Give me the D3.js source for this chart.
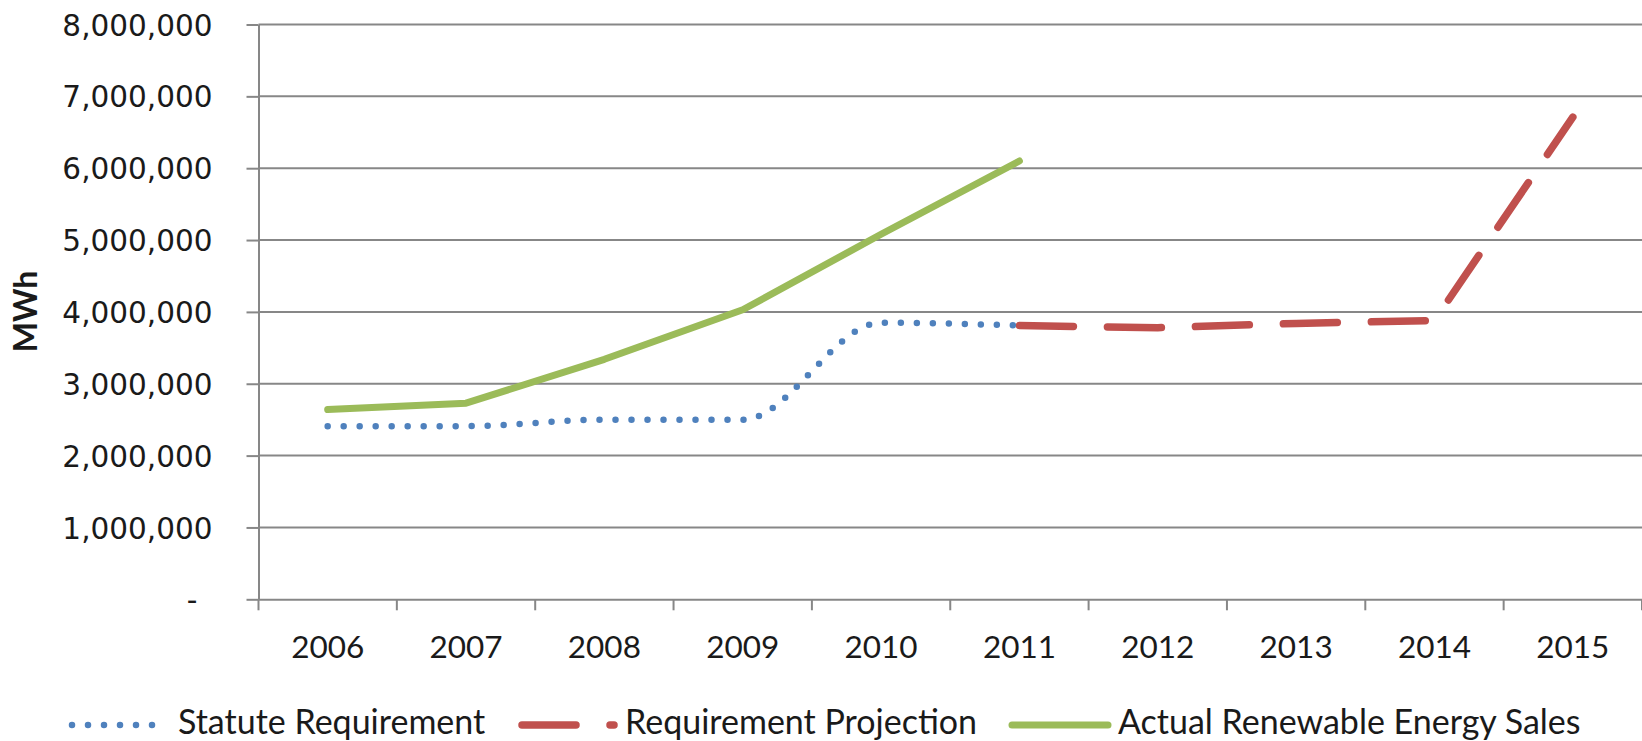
<!DOCTYPE html>
<html>
<head>
<meta charset="utf-8">
<script src="https://cdn.jsdelivr.net/npm/d3@7/dist/d3.min.js"></script>
<style>
  html, body { margin: 0; padding: 0; background: #fff; }
  svg { display: block; }
</style>
</head>
<body>
<svg id="chart" width="1642" height="741"></svg>
<script>
// ---- data ----
const years = ["2006", "2007", "2008", "2009", "2010", "2011", "2012", "2013", "2014", "2015"];
const statuteYears = ["2006", "2007", "2008", "2009", "2010", "2011"];
const statuteValues = [2410000, 2410000, 2500000, 2500000, 3850000, 3810000];
const projectionYears = ["2011", "2012", "2013", "2014", "2015"];
const projectionValues = [3810000, 3780000, 3840000, 3880000, 6710000];
const actualYears = ["2006", "2007", "2008", "2009", "2010", "2011"];
const actualValues = [2640000, 2730000, 3340000, 4030000, 5080000, 6100000];
const yTicks = [0, 1000000, 2000000, 3000000, 4000000, 5000000, 6000000, 7000000, 8000000];
const seriesNames = ["Statute Requirement", "Requirement Projection", "Actual Renewable Energy Sales"];
const yTitle = "MWh";

(function () {
// ---- layout ----
const svg = d3.select("#chart");
const pLeft = 258.5, pRight = 1642, pTop = 24.5, pBottom = 599.3;
const gridColor = "#878787";
const colors = { statute: "#4F81BD", projection: "#C0504D", actual: "#9BBB59" };

const x = d3.scaleBand().domain(years).range([pLeft, pRight]).paddingInner(0).paddingOuter(0);
const y = d3.scaleLinear().domain([0, 8000000]).range([pBottom, pTop]);
const cx = d => x(d) + x.bandwidth() / 2;

// gridlines
svg.append("g").selectAll("line").data(yTicks.filter(v => v > 0)).join("line")
  .attr("x1", pLeft).attr("x2", pRight)
  .attr("y1", d => y(d)).attr("y2", d => y(d))
  .attr("stroke", gridColor).attr("stroke-width", 2);

// y axis
const yAxis = d3.axisLeft(y).tickValues(yTicks).tickSizeInner(12).tickSizeOuter(0).tickPadding(34)
  .tickFormat(d => d === 0 ? "-" : d3.format(",")(d));
const gy = svg.append("g").attr("transform", `translate(${pLeft},0)`).call(yAxis);
gy.select(".domain").attr("stroke", gridColor).attr("stroke-width", 2);
gy.selectAll(".tick line").attr("stroke", gridColor).attr("stroke-width", 2);
gy.selectAll(".tick text")
  .attr("font-family", "'DejaVu Sans', Verdana, sans-serif")
  .attr("font-size", 29.5).attr("fill", "#1a1a1a")
  .attr("dy", "0.36em")
  .attr("dx", d => d === 0 ? -15 : 0);

// x axis
const xAxis = d3.axisBottom(x).tickSizeOuter(0).tickSize(0).tickPadding(0);
const gx = svg.append("g").attr("transform", `translate(0,${pBottom})`).call(xAxis);
gx.select(".domain").attr("stroke", gridColor).attr("stroke-width", 2);
gx.selectAll(".tick text")
  .attr("font-family", "Lato, 'Open Sans', sans-serif")
  .attr("font-size", 31.5).attr("fill", "#1a1a1a")
  .attr("y", 58.7).attr("dy", 0);
// category boundary ticks
svg.append("g").selectAll("line").data(years.concat(["end"])).join("line")
  .attr("x1", (d, i) => i < years.length ? x(d) : pRight)
  .attr("x2", (d, i) => i < years.length ? x(d) : pRight)
  .attr("y1", pBottom).attr("y2", pBottom + 11)
  .attr("stroke", gridColor).attr("stroke-width", 2);

// y title
svg.append("text")
  .attr("transform", `translate(37,311.5) rotate(-90)`)
  .attr("text-anchor", "middle")
  .attr("font-family", "Lato, 'Open Sans', sans-serif")
  .attr("font-weight", "bold").attr("font-size", 32).attr("fill", "#1a1a1a")
  .text(yTitle);

// lines
const smooth = d3.line().x(d => cx(d[0])).y(d => y(d[1])).curve(d3.curveMonotoneX);
const straight = d3.line().x(d => cx(d[0])).y(d => y(d[1])).curve(d3.curveLinear);

const actualData = actualYears.map((yr, i) => [yr, actualValues[i]]);
const statuteData = statuteYears.map((yr, i) => [yr, statuteValues[i]]);
const projectionData = projectionYears.map((yr, i) => [yr, projectionValues[i]]);

svg.append("path").datum(actualData).attr("d", straight)
  .attr("fill", "none").attr("stroke", colors.actual).attr("stroke-width", 7)
  .attr("stroke-linecap", "round").attr("stroke-linejoin", "round");

svg.append("path").datum(projectionData).attr("d", straight)
  .attr("fill", "none").attr("stroke", colors.projection).attr("stroke-width", 7.5)
  .attr("stroke-linecap", "round").attr("stroke-linejoin", "round").attr("stroke-dasharray", "54 34");

svg.append("path").datum(statuteData).attr("d", smooth)
  .attr("fill", "none").attr("stroke", colors.statute).attr("stroke-width", 6.5)
  .attr("stroke-linecap", "round").attr("stroke-dasharray", "0 16");

// legend
const legendY = 725;
const legend = [
  { name: seriesNames[0], x0: 72, x1: 156, tx: 178, color: colors.statute, w: 6.5, dash: "0 16" },
  { name: seriesNames[1], x0: 522, x1: 614, tx: 625, color: colors.projection, w: 7.5, dash: "54 34" },
  { name: seriesNames[2], x0: 1012, x1: 1108, tx: 1118, color: colors.actual, w: 7, dash: null }
];
const lg = svg.append("g").selectAll("g").data(legend).join("g");
lg.append("line")
  .attr("x1", d => d.x0).attr("x2", d => d.x1)
  .attr("y1", legendY).attr("y2", legendY)
  .attr("stroke", d => d.color).attr("stroke-width", d => d.w)
  .attr("stroke-linecap", "round")
  .attr("stroke-dasharray", d => d.dash);
lg.append("text")
  .attr("x", d => d.tx).attr("y", 734)
  .attr("font-family", "Lato, 'Open Sans', sans-serif")
  .attr("font-size", 34).attr("fill", "#1a1a1a")
  .text(d => d.name);
})();
</script>
</body>
</html>
